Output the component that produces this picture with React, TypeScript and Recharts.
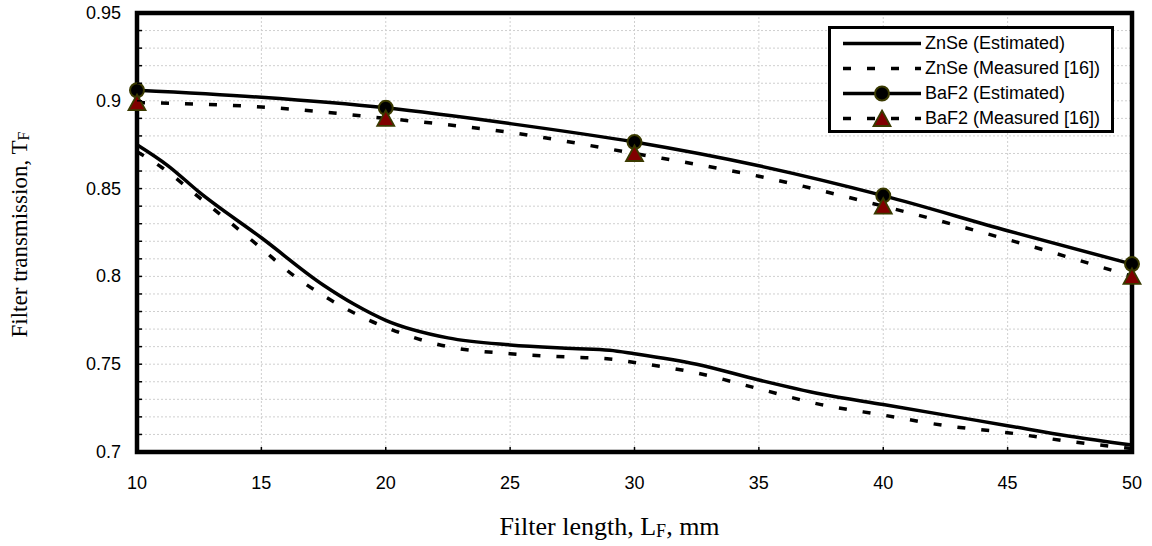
import { LineChart, Line, XAxis, YAxis, CartesianGrid, ReferenceArea, Label } from "recharts";

// ZnSe (Estimated)
const znseEstL = [10, 11.25, 12.5, 15, 17.5, 18.75, 20, 22.5, 25, 27.5, 29, 30, 32.5, 35, 37.5, 40, 42.5, 45, 47.5, 50];
const znseEstT = [0.875, 0.863, 0.848, 0.822, 0.795, 0.784, 0.775, 0.765, 0.761, 0.759, 0.758, 0.756, 0.75, 0.741, 0.733, 0.727, 0.721, 0.715, 0.709, 0.704];

// ZnSe (Measured [16])
const znseMeasL = [10, 11, 12.5, 15, 16.25, 17.5, 18.75, 20, 22.5, 25, 27.5, 29, 30, 32.5, 35, 37.5, 40, 42.5, 45, 47.5, 50];
const znseMeasT = [0.871, 0.862, 0.845, 0.816, 0.801, 0.789, 0.779, 0.771, 0.76, 0.756, 0.754, 0.753, 0.751, 0.745, 0.736, 0.727, 0.721, 0.715, 0.711, 0.706, 0.702];

// BaF2 (Estimated) / BaF2 (Measured [16])
const baf2L = [10, 15, 20, 25, 30, 35, 40, 45, 50];
const baf2EstT = [0.906, 0.902, 0.896, 0.887, 0.8765, 0.863, 0.846, 0.826, 0.807];
const baf2MeasT = [0.899, 0.8965, 0.89, 0.882, 0.87, 0.857, 0.84, 0.821, 0.8];
const markerL = [10, 20, 30, 40, 50];

const xTicks = [10, 15, 20, 25, 30, 35, 40, 45, 50];
const yTicks = [0.7, 0.71, 0.72, 0.73, 0.74, 0.75, 0.76, 0.77, 0.78, 0.79, 0.8, 0.81, 0.82, 0.83, 0.84, 0.85, 0.86, 0.87, 0.88, 0.89, 0.9, 0.91, 0.92, 0.93, 0.94, 0.95];

const toRows = (ls: number[], ts: number[]) => ls.map((l, i) => ({ l, t: ts[i] }));

const znseEst = toRows(znseEstL, znseEstT);
const znseMeas = toRows(znseMeasL, znseMeasT);
const baf2Est = toRows(baf2L, baf2EstT);
const baf2Meas = toRows(baf2L, baf2MeasT);

const SANS = "'Liberation Sans', Arial, sans-serif";
const SERIF = "'Liberation Serif', 'Times New Roman', serif";
const OLIVE = "#3a3a00";
const DARKRED = "#800000";
const DASH = "8 16";

const Circle = ({ cx, cy }: { cx: number; cy: number }) => (
  <circle cx={cx} cy={cy} r={7} fill="#000" stroke={OLIVE} strokeWidth={2} />
);

const Triangle = ({ cx, cy }: { cx: number; cy: number }) => (
  <path d={`M${cx},${cy - 8} L${cx + 8.5},${cy + 7.5} L${cx - 8.5},${cy + 7.5} Z`} fill={DARKRED} stroke={OLIVE} strokeWidth={1.8} />
);

const circleDot = (p: any) =>
  markerL.includes(p.payload.l) ? <Circle key={p.index} cx={p.cx} cy={p.cy} /> : <g key={p.index} />;

const triangleDot = (p: any) =>
  markerL.includes(p.payload.l) ? <Triangle key={p.index} cx={p.cx} cy={p.cy} /> : <g key={p.index} />;

const YTick = (p: any) => {
  const v = p.payload.value;
  const major = Math.round(v * 100) % 5 === 0;
  return (
    <g>
      <line x1={p.x} x2={p.x + 5} y1={p.y} y2={p.y} stroke="#000" strokeWidth={1.5} />
      {major && (
        <text x={p.x - 16} y={p.y} dy={6} textAnchor="end" fontSize={18} fontFamily={SANS} fill="#000">
          {String(v)}
        </text>
      )}
    </g>
  );
};

const XTick = (p: any) => (
  <g>
    <line x1={p.x} x2={p.x} y1={p.y} y2={p.y - 5} stroke="#000" strokeWidth={1.5} />
    <text x={p.x} y={p.y + 37} textAnchor="middle" fontSize={18} fontFamily={SANS} fill="#000">
      {p.payload.value}
    </text>
  </g>
);

const legendItems = [
  { name: "ZnSe (Estimated)", dash: undefined, marker: null },
  { name: "ZnSe (Measured [16])", dash: DASH, marker: null },
  { name: "BaF2 (Estimated)", dash: undefined, marker: "circle" },
  { name: "BaF2 (Measured [16])", dash: DASH, marker: "triangle" },
];

function ChartLegend() {
  return (
    <div
      style={{
        position: "absolute",
        left: 828,
        top: 26,
        width: 286,
        height: 107,
        boxSizing: "border-box",
        border: "3px solid #000",
        background: "#fff",
        paddingTop: 2,
      }}
    >
      {legendItems.map((it) => (
        <div key={it.name} style={{ display: "flex", alignItems: "center", height: 25 }}>
          <svg width={94} height={25} style={{ flex: "none" }}>
            <line x1={12} x2={90} y1={12.5} y2={12.5} stroke="#000" strokeWidth={3.5} strokeDasharray={it.dash} />
            {it.marker === "circle" && <Circle cx={51} cy={12.5} />}
            {it.marker === "triangle" && <Triangle cx={51} cy={12.5} />}
          </svg>
          <span style={{ fontFamily: SANS, fontSize: 18, color: "#000", whiteSpace: "nowrap" }}>{it.name}</span>
        </div>
      ))}
    </div>
  );
}

export default function App() {
  return (
    <div style={{ position: "absolute", left: 0, top: 0, width: 1152, height: 546, background: "#fff" }}>
      <LineChart width={1152} height={546} margin={{ top: 13, right: 20, bottom: 0, left: 0 }}>
        <CartesianGrid stroke="#cfcfcf" strokeDasharray="2 2" />
        <XAxis
          dataKey="l"
          type="number"
          domain={[10, 50]}
          ticks={xTicks}
          height={94}
          axisLine={false}
          tickLine={false}
          tickSize={0}
          tickMargin={0}
          tick={<XTick />}
          allowDuplicatedCategory={false}
        >
          <Label
            content={(props: any) => {
              const vb = props.viewBox;
              return (
                <text x={vb.x + vb.width / 2 - 25} y={535} textAnchor="middle" fontFamily={SERIF} fontSize={26} fill="#000">
                  Filter length, L<tspan fontSize={18} dy={2}>F</tspan>
                  <tspan dy={-2}>, mm</tspan>
                </text>
              );
            }}
          />
        </XAxis>
        <YAxis
          type="number"
          domain={[0.7, 0.95]}
          ticks={yTicks}
          width={137}
          axisLine={false}
          tickLine={false}
          tickSize={0}
          tickMargin={0}
          tick={<YTick />}
          interval={0}
        >
          <Label
            content={(props: any) => {
              const vb = props.viewBox;
              const cy = vb.y + vb.height / 2 + 2;
              return (
                <text x={27} y={cy} transform={`rotate(-90 27 ${cy})`} textAnchor="middle" fontFamily={SERIF} fontSize={23} fill="#000">
                  Filter transmission, T<tspan fontSize={16} dy={2}>F</tspan>
                </text>
              );
            }}
          />
        </YAxis>
        <Line data={znseEst} dataKey="t" type="monotone" stroke="#000" strokeWidth={3.5} dot={false} isAnimationActive={false} />
        <Line data={znseMeas} dataKey="t" type="monotone" stroke="#000" strokeWidth={3.5} strokeDasharray={DASH} dot={false} isAnimationActive={false} />
        <Line data={baf2Est} dataKey="t" type="monotone" stroke="#000" strokeWidth={3.5} dot={circleDot} isAnimationActive={false} />
        <Line data={baf2Meas} dataKey="t" type="monotone" stroke="#000" strokeWidth={3.5} strokeDasharray={DASH} dot={triangleDot} isAnimationActive={false} />
        <ReferenceArea x1={10} x2={50} y1={0.7} y2={0.95} fill="none" stroke="#000" strokeWidth={4.5} ifOverflow="visible" />
      </LineChart>
      <ChartLegend />
    </div>
  );
}
